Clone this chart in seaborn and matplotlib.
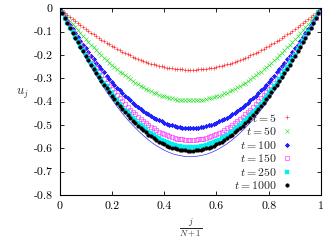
import numpy as np
import matplotlib
matplotlib.use("Agg")
import matplotlib.pyplot as plt
import seaborn as sns

# %% Data (N = 99 grid points, x = j/(N+1))
N = 99
x_pts = np.arange(N + 2) / (N + 1)
x_line = np.arange(51) / 50

u_t5 = [0, -0.009, -0.019, -0.028, -0.037, -0.046, -0.054, -0.063, -0.071, -0.080,
        -0.088, -0.096, -0.104, -0.112, -0.119, -0.127, -0.134, -0.141, -0.148, -0.155,
        -0.161, -0.168, -0.174, -0.180, -0.186, -0.192, -0.197, -0.202, -0.207, -0.212,
        -0.217, -0.221, -0.225, -0.229, -0.233, -0.237, -0.240, -0.243, -0.246, -0.249,
        -0.251, -0.254, -0.256, -0.257, -0.259, -0.260, -0.261, -0.262, -0.263, -0.263,
        -0.263,
        -0.263, -0.263, -0.262, -0.261, -0.260, -0.259, -0.257, -0.256, -0.254, -0.251,
        -0.249, -0.246, -0.243, -0.240, -0.237, -0.233, -0.229, -0.225, -0.221, -0.217,
        -0.212, -0.207, -0.202, -0.197, -0.192, -0.186, -0.180, -0.174, -0.168, -0.161,
        -0.155, -0.148, -0.141, -0.134, -0.127, -0.119, -0.112, -0.104, -0.096, -0.088,
        -0.080, -0.071, -0.063, -0.054, -0.046, -0.037, -0.028, -0.019, -0.009, 0]

u_t50 = [0, -0.014, -0.028, -0.042, -0.055, -0.068, -0.082, -0.095, -0.107, -0.120,
         -0.132, -0.144, -0.156, -0.168, -0.179, -0.190, -0.201, -0.212, -0.222, -0.233,
         -0.242, -0.252, -0.261, -0.271, -0.279, -0.288, -0.296, -0.304, -0.311, -0.319,
         -0.326, -0.332, -0.339, -0.345, -0.350, -0.356, -0.361, -0.365, -0.370, -0.374,
         -0.377, -0.381, -0.384, -0.386, -0.389, -0.391, -0.392, -0.393, -0.394, -0.395,
         -0.395,
         -0.395, -0.394, -0.393, -0.392, -0.391, -0.389, -0.386, -0.384, -0.381, -0.377,
         -0.374, -0.370, -0.365, -0.361, -0.356, -0.350, -0.345, -0.339, -0.332, -0.326,
         -0.319, -0.311, -0.304, -0.296, -0.288, -0.279, -0.271, -0.261, -0.252, -0.242,
         -0.233, -0.222, -0.212, -0.201, -0.190, -0.179, -0.168, -0.156, -0.144, -0.132,
         -0.120, -0.107, -0.095, -0.082, -0.068, -0.055, -0.042, -0.028, -0.014, 0]

u_t100 = [0, -0.018, -0.036, -0.054, -0.072, -0.089, -0.106, -0.123, -0.139, -0.156,
          -0.172, -0.187, -0.203, -0.218, -0.233, -0.247, -0.261, -0.275, -0.289, -0.302,
          -0.315, -0.327, -0.340, -0.351, -0.363, -0.374, -0.384, -0.395, -0.405, -0.414,
          -0.423, -0.432, -0.440, -0.448, -0.455, -0.462, -0.468, -0.475, -0.480, -0.485,
          -0.490, -0.495, -0.498, -0.502, -0.505, -0.507, -0.509, -0.511, -0.512, -0.513,
          -0.513,
          -0.513, -0.512, -0.511, -0.509, -0.507, -0.505, -0.502, -0.498, -0.495, -0.490,
          -0.485, -0.480, -0.475, -0.468, -0.462, -0.455, -0.448, -0.440, -0.432, -0.423,
          -0.414, -0.405, -0.395, -0.384, -0.374, -0.363, -0.351, -0.340, -0.327, -0.315,
          -0.302, -0.289, -0.275, -0.261, -0.247, -0.233, -0.218, -0.203, -0.187, -0.172,
          -0.156, -0.139, -0.123, -0.106, -0.089, -0.072, -0.054, -0.036, -0.018, 0]

u_t150 = [0, -0.020, -0.040, -0.059, -0.079, -0.098, -0.116, -0.135, -0.153, -0.171,
          -0.189, -0.206, -0.223, -0.240, -0.256, -0.272, -0.287, -0.303, -0.318, -0.332,
          -0.346, -0.360, -0.373, -0.386, -0.399, -0.411, -0.423, -0.434, -0.445, -0.455,
          -0.465, -0.475, -0.484, -0.492, -0.500, -0.508, -0.515, -0.522, -0.528, -0.534,
          -0.539, -0.544, -0.548, -0.552, -0.555, -0.558, -0.560, -0.562, -0.563, -0.564,
          -0.564,
          -0.564, -0.563, -0.562, -0.560, -0.558, -0.555, -0.552, -0.548, -0.544, -0.539,
          -0.534, -0.528, -0.522, -0.515, -0.508, -0.500, -0.492, -0.484, -0.475, -0.465,
          -0.455, -0.445, -0.434, -0.423, -0.411, -0.399, -0.386, -0.373, -0.360, -0.346,
          -0.332, -0.318, -0.303, -0.287, -0.272, -0.256, -0.240, -0.223, -0.206, -0.189,
          -0.171, -0.153, -0.135, -0.116, -0.098, -0.079, -0.059, -0.040, -0.020, 0]

u_t250 = [0, -0.021, -0.042, -0.063, -0.083, -0.103, -0.123, -0.142, -0.162, -0.180,
          -0.199, -0.217, -0.235, -0.253, -0.270, -0.287, -0.303, -0.319, -0.335, -0.350,
          -0.365, -0.380, -0.394, -0.408, -0.421, -0.434, -0.446, -0.458, -0.469, -0.480,
          -0.491, -0.501, -0.510, -0.519, -0.528, -0.536, -0.543, -0.550, -0.557, -0.563,
          -0.569, -0.574, -0.578, -0.582, -0.585, -0.588, -0.591, -0.593, -0.594, -0.595,
          -0.595,
          -0.595, -0.594, -0.593, -0.591, -0.588, -0.585, -0.582, -0.578, -0.574, -0.569,
          -0.563, -0.557, -0.550, -0.543, -0.536, -0.528, -0.519, -0.510, -0.501, -0.491,
          -0.480, -0.469, -0.458, -0.446, -0.434, -0.421, -0.408, -0.394, -0.380, -0.365,
          -0.350, -0.335, -0.319, -0.303, -0.287, -0.270, -0.253, -0.235, -0.217, -0.199,
          -0.180, -0.162, -0.142, -0.123, -0.103, -0.083, -0.063, -0.042, -0.021, 0]

u_t1000 = [0, -0.022, -0.043, -0.064, -0.085, -0.106, -0.126, -0.146, -0.166, -0.185,
           -0.204, -0.223, -0.241, -0.259, -0.277, -0.294, -0.311, -0.327, -0.343, -0.359,
           -0.374, -0.389, -0.404, -0.418, -0.431, -0.444, -0.457, -0.469, -0.481, -0.492,
           -0.503, -0.513, -0.523, -0.532, -0.541, -0.549, -0.557, -0.564, -0.571, -0.577,
           -0.583, -0.588, -0.593, -0.597, -0.600, -0.603, -0.606, -0.608, -0.609, -0.610,
           -0.610,
           -0.610, -0.609, -0.608, -0.606, -0.603, -0.600, -0.597, -0.593, -0.588, -0.583,
           -0.577, -0.571, -0.564, -0.557, -0.549, -0.541, -0.532, -0.523, -0.513, -0.503,
           -0.492, -0.481, -0.469, -0.457, -0.444, -0.431, -0.418, -0.404, -0.389, -0.374,
           -0.359, -0.343, -0.327, -0.311, -0.294, -0.277, -0.259, -0.241, -0.223, -0.204,
           -0.185, -0.166, -0.146, -0.126, -0.106, -0.085, -0.064, -0.043, -0.022, 0]

# thin steady-state line
u_steady = [0, -0.045, -0.089, -0.131, -0.173, -0.213, -0.251, -0.289, -0.324, -0.358,
            -0.390, -0.421, -0.450, -0.477, -0.501, -0.524, -0.545, -0.564, -0.581, -0.595,
            -0.608, -0.618, -0.626, -0.631, -0.635, -0.636,
            -0.635, -0.631, -0.626, -0.618, -0.608, -0.595, -0.581, -0.564, -0.545, -0.524,
            -0.501, -0.477, -0.450, -0.421, -0.390, -0.358, -0.324, -0.289, -0.251, -0.213,
            -0.173, -0.131, -0.089, -0.045, 0]

times = [5, 50, 100, 150, 250, 1000]
series = [u_t5, u_t50, u_t100, u_t150, u_t250, u_t1000]

x_ticks = [0, 0.2, 0.4, 0.6, 0.8, 1]
x_ticklabels = ["0", "0.2", "0.4", "0.6", "0.8", "1"]
y_ticks = [0, -0.1, -0.2, -0.3, -0.4, -0.5, -0.6, -0.7, -0.8]
y_ticklabels = ["0", "-0.1", "-0.2", "-0.3", "-0.4", "-0.5", "-0.6", "-0.7", "-0.8"]

# gnuplot-like point types
styles = [
    dict(color="#ff3030", marker="+", mfc="none", ms=3.2, mew=0.45),
    dict(color="#30e030", marker="x", mfc="none", ms=2.6, mew=0.45),
    dict(color="#2020ff", marker=(8, 2, 0), mfc="none", ms=3.2, mew=0.45),
    dict(color="#ff30ff", marker="s", mfc="none", ms=2.4, mew=0.45),
    dict(color="#00f0f0", marker="s", mfc="#00f0f0", ms=2.5, mew=0.3),
    dict(color="#000000", marker="o", mfc="#000000", ms=2.6, mew=0.3),
]

# %% Plot
sns.set_theme(style="ticks")
plt.rcParams["font.family"] = "serif"
plt.rcParams["font.serif"] = ["cmr10", "DejaVu Serif"]
plt.rcParams["mathtext.fontset"] = "cm"
plt.rcParams["axes.unicode_minus"] = False

fig = plt.figure(figsize=(3.27, 2.40), dpi=100)
ax = fig.add_axes([0.182, 0.1875, 0.800, 0.778])

sns.lineplot(x=x_line, y=u_steady, color="#3030ff", linewidth=0.5, ax=ax)

for t, u, st in zip(times, series, styles):
    sns.lineplot(x=x_pts, y=u, ax=ax, linestyle="", marker=st["marker"],
                 markersize=st["ms"], markeredgecolor=st["color"],
                 markerfacecolor=st["mfc"], markeredgewidth=st["mew"],
                 color=st["color"], label=f"$t = {t}$")

ax.set_xlim(0, 1)
ax.set_ylim(-0.8, 0)
ax.set_xticks(x_ticks)
ax.set_xticklabels(x_ticklabels)
ax.set_yticks(y_ticks)
ax.set_yticklabels(y_ticklabels)
ax.tick_params(direction="in", length=3, width=0.6, top=True, right=True,
               labelsize=8.5, colors="black", pad=5)
for sp in ax.spines.values():
    sp.set_linewidth(0.8)
    sp.set_color("black")

ax.set_ylabel("$u_j$", rotation=0, fontsize=9)
ax.yaxis.set_label_coords(-0.143, 0.505)
ax.set_xlabel(r"$\frac{j}{N+1}$", fontsize=9)
ax.xaxis.set_label_coords(0.5, -0.118)

leg = ax.legend(loc="lower right", bbox_to_anchor=(0.885, 0.02), frameon=False,
                markerfirst=False, handlelength=0.6, handletextpad=0.6,
                labelspacing=0.13, borderpad=0, borderaxespad=0, fontsize=8.5)

fig.savefig("out.png", dpi=100)
